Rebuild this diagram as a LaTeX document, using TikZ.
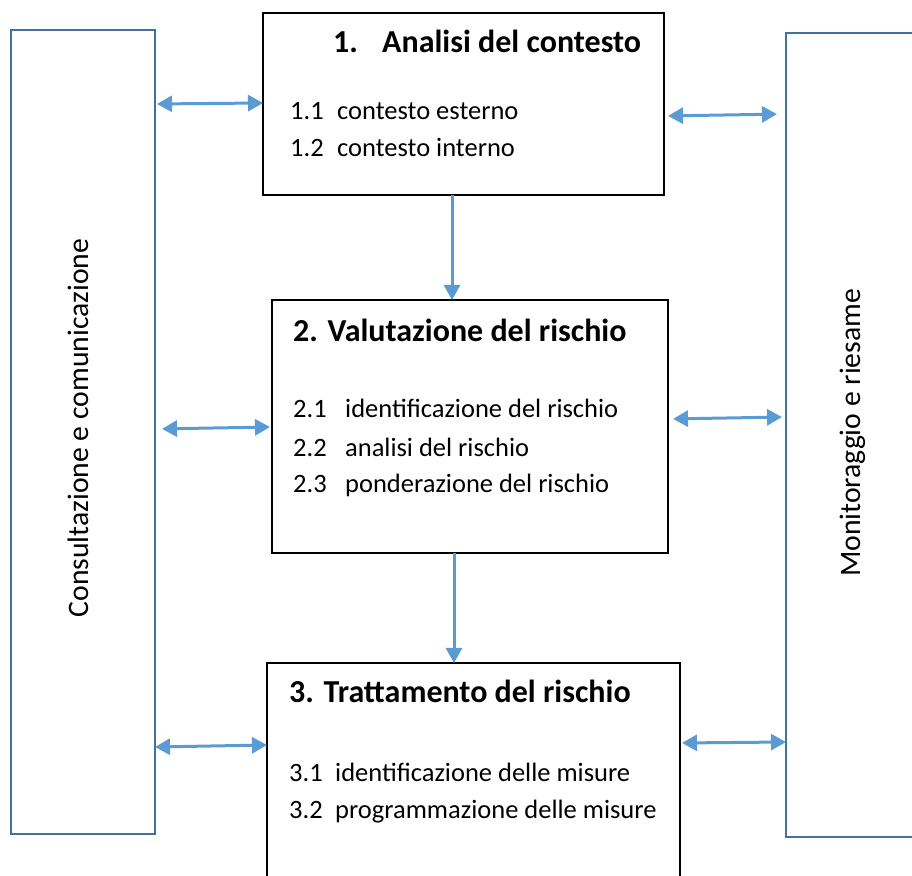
\documentclass[tikz,border=0pt]{standalone}
\usepackage{fontspec}
\setmainfont{Carlito}
\usepackage{tikz}
\usetikzlibrary{arrows.meta, positioning, calc}
\definecolor{sideblue}{HTML}{41719C}
\definecolor{arrowblue}{HTML}{5B9BD5}

\begin{document}
\begin{tikzpicture}[x=1pt, y=1pt,
  sidebox/.style={draw=sideblue, line width=2pt, rectangle, inner sep=0pt, outer sep=0pt},
  stepbox/.style={draw, line width=1.5pt, rectangle, inner sep=0pt, outer sep=0pt, anchor=north west},
  title/.style={font=\bfseries\fontsize{32}{38}\selectfont, anchor=base west, inner sep=0pt},
  item/.style={font=\fontsize{26.5}{31}\selectfont, anchor=base west, inner sep=0pt},
  sidelabel/.style={font=\fontsize{29.7}{35}\selectfont, rotate=90, anchor=base, inner sep=0pt},
  link/.style={{Triangle[length=15pt,width=16pt]}-{Triangle[length=15pt,width=16pt]}, line width=3pt, draw=arrowblue},
  flow/.style={-{Triangle[length=15pt,width=16pt]}, line width=3pt, draw=arrowblue}]
\path[use as bounding box, clip] (0,0) rectangle (912,875);

\node (cons) [sidebox, minimum width=144pt, minimum height=804pt] at (83,443) {};
\node (moni) [sidebox, minimum width=174pt, minimum height=804pt] at (873,440) {};
\node (conslabel) [sidelabel] at (88,447) {Consultazione e comunicazione};
\node (monilabel) [sidelabel] at (860,442) {Monitoraggio e riesame};

% 1. Analisi del contesto
\node (analisi) [stepbox, minimum width=401pt, minimum height=182pt] at (263,862) {};
\node (t1) [title] at ([shift={(70pt,-40pt)}]analisi.north west) {\makebox[49pt][l]{1.}Analisi del contesto};
\node (t11) [item] at ([shift={(27pt,-107pt)}]analisi.north west) {\makebox[47pt][l]{1.1}contesto esterno};
\node (t12) [item] at ([shift={(27pt,-144pt)}]analisi.north west) {\makebox[47pt][l]{1.2}contesto interno};

% 2. Valutazione del rischio
\node (valut) [stepbox, minimum width=396pt, minimum height=253pt] at (272,575) {};
\node (t2) [title] at ([shift={(21pt,-42pt)}]valut.north west) {2. Valutazione del rischio};
\node (t21) [item] at ([shift={(21pt,-118pt)}]valut.north west) {\makebox[52pt][l]{2.1}identificazione del rischio};
\node (t22) [item] at ([shift={(21pt,-157pt)}]valut.north west) {\makebox[52pt][l]{2.2}analisi del rischio};
\node (t23) [item] at ([shift={(21pt,-193pt)}]valut.north west) {\makebox[52pt][l]{2.3}ponderazione del rischio};

% 3. Trattamento del rischio
\node (tratt) [stepbox, minimum width=413pt, minimum height=222pt] at (267,212) {};
\node (t3) [title] at ([shift={(22pt,-40pt)}]tratt.north west) {3. Trattamento del rischio};
\node (t31) [item] at ([shift={(22pt,-119pt)}]tratt.north west) {\makebox[46pt][l]{3.1}identificazione delle misure};
\node (t32) [item] at ([shift={(22pt,-155pt)}]tratt.north west) {\makebox[46pt][l]{3.2}programmazione delle misure};

\draw[flow] (analisi.south -| 452,0) -- (valut.north -| 452,0);
\draw[flow] (valut.south -| 454,0) -- (tratt.north -| 454,0);

\draw[link, shorten <=2pt] (cons.east |- 0,771) -- (analisi.west |- 0,772);
\draw[link, shorten <=7pt, shorten >=2pt] (cons.east |- 0,446) -- (valut.west |- 0,448);
\draw[link] (cons.east |- 0,128) -- (tratt.west |- 0,130);
\draw[link, shorten <=4pt, shorten >=9pt] (analisi.east |- 0,759) -- (moni.west |- 0,761);
\draw[link, shorten <=5pt, shorten >=4pt] (valut.east |- 0,456) -- (moni.west |- 0,458);
\draw[link, shorten <=2pt] (tratt.east |- 0,132) -- (moni.west |- 0,133);
\end{tikzpicture}
\end{document}
